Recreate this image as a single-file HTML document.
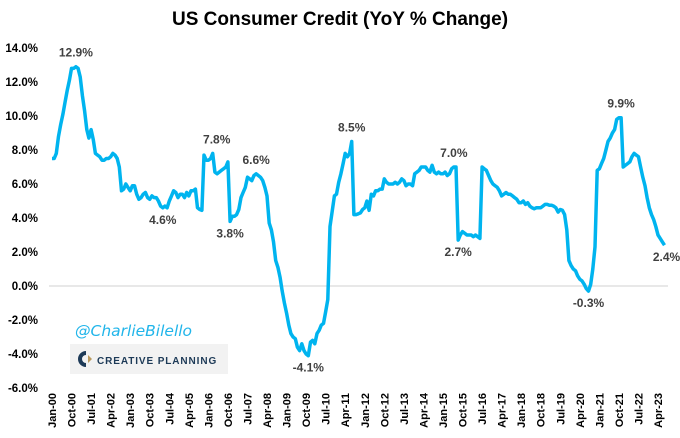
<!DOCTYPE html>
<html><head><meta charset="utf-8"><style>
body{margin:0;background:#fff;}
svg{display:block;font-family:"Liberation Sans",sans-serif;}
</style></head><body>
<svg id="chart" width="680" height="438">
<text x="340" y="25" text-anchor="middle" font-size="19" font-weight="bold" fill="#000">US Consumer Credit (YoY % Change)</text>
<g id="yaxis"></g>
<g id="xaxis"></g>
<g id="series"></g>
<g id="annots"></g>
<text x="75" y="336" font-size="15.5" font-style="italic" fill="#21b5ea" font-family="'DejaVu Sans',sans-serif">@CharlieBilello</text>
<g>
<rect x="70" y="344" width="158" height="30" fill="#f2f2f2"/>
<path d="M86 351 a8 8 0 1 0 0 16 l0 -4 a4 4 0 1 1 0 -8 z" fill="#1d3a57"/>
<path d="M88 355 l4 4 l-4 4 z" fill="#b99a5f"/>
<text x="97" y="364" font-size="10" font-weight="bold" letter-spacing="0.9" fill="#1d3a57">CREATIVE PLANNING</text>
</g>
</svg>
<script>
const years=[
7.5,7.5,7.8,8.8,9.5,10.1,10.8,11.5,12.1,12.8,12.8,12.9,
12.8,12.3,11.2,10.3,9.2,8.7,9.2,8.6,7.8,7.7,7.6,7.4,
7.4,7.5,7.5,7.6,7.8,7.7,7.5,7.0,5.6,5.7,6.0,5.8,
5.6,5.9,5.9,5.4,5.1,5.2,5.4,5.5,5.2,5.1,5.3,5.2,
5.2,5.0,4.7,4.6,4.7,4.6,5.0,5.3,5.6,5.5,5.2,5.4,
5.4,5.2,5.5,5.3,5.6,5.6,5.7,4.6,4.5,4.45,7.7,7.4,
7.4,7.5,7.8,6.7,6.6,6.7,6.8,6.9,7.0,7.3,3.8,4.1,
4.1,4.2,4.5,5.2,5.5,5.8,6.4,6.3,6.2,6.5,6.6,6.5,
6.4,6.2,5.8,5.3,3.7,3.3,2.6,1.5,1.1,0.5,-0.3,-1.0,
-1.6,-2.3,-2.8,-3.0,-3.1,-3.6,-3.8,-3.4,-3.8,-4.0,-4.1,-3.3,
-3.2,-3.4,-2.8,-2.6,-2.3,-2.2,-1.5,-0.8,3.5,4.4,5.3,5.4,
6.1,6.6,7.2,7.8,7.6,7.8,8.5,4.2,4.2,4.25,4.3,4.5,
4.6,5.0,4.45,5.4,5.3,5.6,5.6,5.7,5.7,6.3,6.1,6.0,
6.0,6.0,6.1,6.0,6.1,6.3,6.2,5.9,6.0,6.0,5.9,6.6,
6.7,6.8,7.0,7.0,7.0,6.8,6.7,7.1,6.7,6.6,6.7,6.6,
6.6,6.7,6.5,6.6,6.9,7.0,7.0,2.7,3.0,3.2,3.1,3.0,
3.0,3.0,2.9,3.0,2.9,2.8,7.0,6.9,6.8,6.5,6.2,6.0,
5.9,5.8,5.6,5.3,5.4,5.5,5.4,5.4,5.3,5.2,5.1,4.9,
4.9,5.0,4.8,4.9,4.7,4.6,4.55,4.6,4.6,4.6,4.7,4.8,
4.8,4.75,4.75,4.7,4.6,4.35,4.5,4.45,4.2,3.3,1.5,1.2,
1.0,0.9,0.6,0.4,0.3,0.1,-0.15,-0.3,0.1,1.0,2.3,6.8,
6.9,7.2,7.5,8.0,8.5,8.7,9.0,9.2,9.8,9.9,9.9,7.0,
7.1,7.2,7.3,7.6,7.8,7.7,7.6,7.0,6.4,5.9,5.2,4.6,
4.2,3.9,3.5,3.0,2.8,2.6,2.4];
const yTicks=[14,12,10,8,6,4,2,0,-2,-4,-6];
const xLabels=["Jan-00","Oct-00","Jul-01","Apr-02","Jan-03","Oct-03","Jul-04","Apr-05","Jan-06","Oct-06","Jul-07","Apr-08","Jan-09","Oct-09","Jul-10","Apr-11","Jan-12","Oct-12","Jul-13","Apr-14","Jan-15","Oct-15","Jul-16","Apr-17","Jan-18","Oct-18","Jul-19","Apr-20","Jan-21","Oct-21","Jul-22","Apr-23"];
const annIdx=[11,74,94,51,82,118,138,185,187,247,262,282];
const annDx=[0,4,0,0,0,0,0,0,0,0,0,2];
const annDy=[-10,-10,-10,16,16,16,-10,-10,16,16,-10,16];
const NS="http://www.w3.org/2000/svg";
const x=i=>52+i*(606/279);
const y=v=>286-v*17;
const ya=document.getElementById('yaxis'),xa=document.getElementById('xaxis'),se=document.getElementById('series'),an=document.getElementById('annots');
yTicks.forEach(t=>{
 const tx=document.createElementNS(NS,'text');
 
 
 tx.setAttribute('x',38);tx.setAttribute('y',y(t)+4);
 tx.setAttribute('text-anchor','end');tx.setAttribute('font-size','11.5');tx.setAttribute('font-weight','bold');
 tx.textContent=t.toFixed(1)+'%';ya.appendChild(tx);
});
const zl=document.createElementNS(NS,'line');


zl.setAttribute('x1',49);zl.setAttribute('x2',668);zl.setAttribute('y1',y(0));zl.setAttribute('y2',y(0));
zl.setAttribute('stroke','#d0d0d0');zl.setAttribute('stroke-width','1');ya.appendChild(zl);
xLabels.forEach((l,k)=>{
 const tx=document.createElementNS(NS,'text');
 
 
 const px=x(k*9)+4,py=393;
 tx.setAttribute('transform','translate('+px+','+py+') rotate(-90)');
 tx.setAttribute('text-anchor','end');tx.setAttribute('font-size','11');tx.setAttribute('font-weight','bold');
 tx.textContent=l;xa.appendChild(tx);
});
const p=document.createElementNS(NS,'polyline');


p.setAttribute('points',years.map((v,i)=>x(i).toFixed(1)+','+y(v).toFixed(1)).join(' '));
p.setAttribute('fill','none');p.setAttribute('stroke','#00b4ef');p.setAttribute('stroke-width','3.5');p.setAttribute('stroke-linejoin','round');
se.appendChild(p);
annIdx.forEach((i,k)=>{
 const tx=document.createElementNS(NS,'text');
 
 
 tx.setAttribute('x',x(i)+annDx[k]);tx.setAttribute('y',y(years[i])+annDy[k]);
 tx.setAttribute('text-anchor','middle');tx.setAttribute('font-size','12');tx.setAttribute('font-weight','bold');tx.setAttribute('fill','#404040');
 tx.textContent=years[i].toFixed(1)+'%';an.appendChild(tx);
});
</script>
</body></html>
